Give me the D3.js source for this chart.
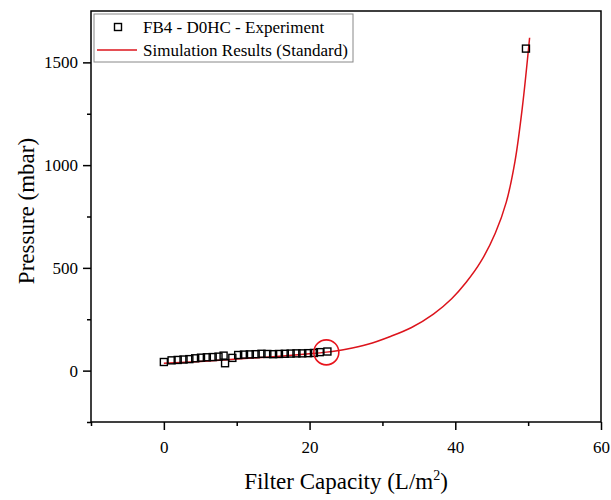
<!DOCTYPE html>
<html>
<head>
<meta charset="utf-8">
<script src="https://cdn.jsdelivr.net/npm/d3@7"></script>
<style>
  body { margin: 0; background: #fff; }
  svg { font-family: "Liberation Serif", "DejaVu Serif", serif; }
</style>
</head>
<body>
<div id="chart"></div>
<script>
// experiment points (filter capacity, pressure)
const expX = [0, 1.06, 1.9, 2.7, 3.5, 4.3, 5.1, 5.9, 6.7, 7.5, 8.2, 8.4, 9.4, 10.2, 11.0, 11.8, 12.6,
  13.4, 14.2, 15.0, 15.8, 16.6, 17.4, 18.2, 19.0, 19.8, 20.6, 21.4, 22.45, 49.7];
const expY = [42, 50, 52, 54, 56, 60, 63, 65, 66, 68, 73, 36, 62, 76, 78, 79, 80,
  82, 81, 80, 81, 82, 83, 84, 84, 85, 86, 90, 93, 1567];

// simulation curve
const simX = [0, 5, 10, 15, 20, 22.3, 25, 28, 31, 34, 37, 39.5, 41.5, 43.5, 45.5, 47, 48.2, 49.2, 50.2];
const simY = [36, 45, 56, 68, 82, 90, 104, 128, 165, 210, 275, 350, 430, 530, 670, 820, 1020, 1280, 1620];

const xTicks = [0, 20, 40, 60];
const xMinor = [-10, 10, 30, 50];
const yTicks = [0, 500, 1000, 1500];
const yMinor = [-250, 250, 750, 1250];

const circlePt = [22.3, 89];

const width = 611, height = 500;
const margin = { top: 11, right: 10, bottom: 78, left: 91 };

const svg = d3.select('#chart')
  .append('svg')
  .attr('width', width)
  .attr('height', height);

const x = d3.scaleLinear().domain([-10, 60]).range([margin.left, width - margin.right]);
const y = d3.scaleLinear().domain([-250, 1750]).range([height - margin.bottom, margin.top]);

// frame
svg.append('rect')
  .attr('x', x(-10)).attr('y', y(1750))
  .attr('width', x(60) - x(-10)).attr('height', y(-250) - y(1750))
  .attr('fill', 'none').attr('stroke', '#000').attr('stroke-width', 1.5);

// bottom axis
svg.append('g')
  .attr('transform', `translate(0,${y(-250)})`)
  .call(d3.axisBottom(x).tickValues(xTicks).tickSize(8).tickPadding(11).tickSizeOuter(0).tickFormat(d3.format('d')));
svg.append('g')
  .attr('transform', `translate(0,${y(-250)})`)
  .call(d3.axisBottom(x).tickValues(xMinor).tickSize(4).tickFormat('').tickSizeOuter(0));

// left axis
svg.append('g')
  .attr('transform', `translate(${x(-10)},0)`)
  .call(d3.axisLeft(y).tickValues(yTicks).tickSize(8).tickPadding(5).tickSizeOuter(0).tickFormat(d3.format('d')));
svg.append('g')
  .attr('transform', `translate(${x(-10)},0)`)
  .call(d3.axisLeft(y).tickValues(yMinor).tickSize(4).tickFormat('').tickSizeOuter(0));

svg.selectAll('.domain').remove();
svg.selectAll('.tick line').attr('stroke', '#000').attr('stroke-width', 1.5);
svg.selectAll('.tick text').attr('font-size', 17).attr('fill', '#000')
  .attr('font-family', '"Liberation Serif", serif');

// axis titles
const xt = svg.append('text')
  .attr('x', (x(-10) + x(60)) / 2)
  .attr('y', 489)
  .attr('text-anchor', 'middle')
  .attr('font-size', 23);
xt.append('tspan').text('Filter Capacity (L/m');
xt.append('tspan').attr('dy', -9).attr('font-size', 14).text('2');
xt.append('tspan').attr('dy', 9).text(')');

svg.append('text')
  .attr('transform', 'translate(34,211) rotate(-90)')
  .attr('text-anchor', 'middle')
  .attr('font-size', 23)
  .text('Pressure (mbar)');

// simulation line
const simData = simX.map((d, i) => [d, simY[i]]);
svg.append('path')
  .datum(simData)
  .attr('fill', 'none')
  .attr('stroke', '#dc141c')
  .attr('stroke-width', 1.5)
  .attr('d', d3.line().x(d => x(d[0])).y(d => y(d[1])).curve(d3.curveCatmullRom));

// experiment squares
const expData = expX.map((d, i) => [d, expY[i]]);
svg.selectAll('.pt')
  .data(expData)
  .enter()
  .append('rect')
  .attr('class', 'pt')
  .attr('x', d => x(d[0]) - 3.5)
  .attr('y', d => y(d[1]) - 3.5)
  .attr('width', 7)
  .attr('height', 7)
  .attr('fill', 'none')
  .attr('stroke', '#000')
  .attr('stroke-width', 1.4);

// highlight circle
svg.append('circle')
  .attr('cx', x(circlePt[0]))
  .attr('cy', y(circlePt[1]))
  .attr('r', 12.5)
  .attr('fill', 'none')
  .attr('stroke', '#e8141c')
  .attr('stroke-width', 1.6);

// legend
const lg = svg.append('g');
lg.append('rect')
  .attr('x', 94).attr('y', 14).attr('width', 259).attr('height', 48)
  .attr('fill', '#fff').attr('stroke', '#888').attr('stroke-width', 1);
lg.append('rect')
  .attr('x', 114.5).attr('y', 23.5).attr('width', 7).attr('height', 7)
  .attr('fill', 'none').attr('stroke', '#000').attr('stroke-width', 1.4);
lg.append('line')
  .attr('x1', 97).attr('x2', 137).attr('y1', 50).attr('y2', 50)
  .attr('stroke', '#dc141c').attr('stroke-width', 1.5);
lg.append('text').attr('x', 143).attr('y', 33).attr('font-size', 17).text('FB4 - D0HC - Experiment');
lg.append('text').attr('x', 143).attr('y', 56).attr('font-size', 17).text('Simulation Results (Standard)');
</script>
</body>
</html>
